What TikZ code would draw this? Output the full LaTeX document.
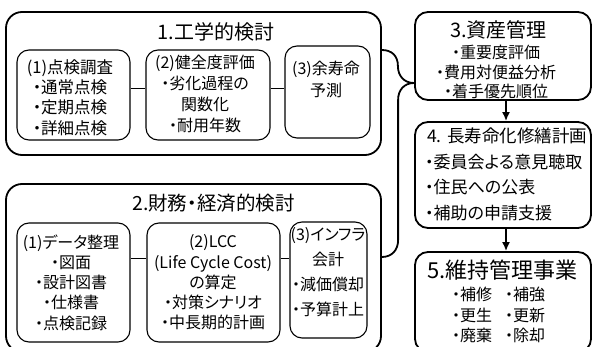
\documentclass[tikz,border=0pt]{standalone}
\usepackage{fontspec}
\setmainfont{Noto Sans CJK JP}[RawFeature=+palt]
\usetikzlibrary{positioning, arrows.meta}

\begin{document}
\begin{tikzpicture}[x=1pt, y=-1pt,
    outerbox/.style={draw, line width=1.8pt, rounded corners=16pt, inner sep=0pt},
    innerbox/.style={draw, line width=1.1pt, rounded corners=12pt, inner sep=0pt},
    sidebox/.style={draw, line width=1.8pt, rounded corners=13pt, inner sep=0pt},
    itemtxt/.style={inner sep=0pt, align=center, font=\fontsize{16}{20.3}\selectfont},
    titletxt/.style={inner sep=0pt, font=\fontsize{20}{24}\selectfont},
    link/.style={line width=0.9pt},
    joint/.style={line width=1.8pt},
    flow/.style={line width=1.8pt, -{Latex[length=9pt,width=8pt]}}]

  \useasboundingbox (0,0) rectangle (593,347);
  \clip (0,0) rectangle (593,347);

  % 1. engineering
  \node[outerbox, minimum width=375pt, minimum height=143pt] (eng) at (193.5,83.5) {};
  \node[titletxt] (engtitle) at (216,32) {1.工学的検討};
  \node[innerbox, minimum width=113pt, minimum height=90pt] (eng1) at (73.5,95) {};
  \node[innerbox, minimum width=124pt, minimum height=90pt] (eng2) at (208,95) {};
  \node[innerbox, minimum width=85pt, minimum height=92pt] (eng3) at (327.5,92) {};
  \node[itemtxt, font=\fontsize{16.5}{20.3}\selectfont] (eng1txt) at (70,97.5) {(1)点検調査\\・通常点検\\・定期点検\\・詳細点検};
  \node[itemtxt, font=\fontsize{16}{21}\selectfont] (eng2txt) at (205,93.5) {(2)健全度評価\\・劣化過程の\\関数化\\・耐用年数};
  \node[itemtxt, font=\fontsize{16}{22}\selectfont] (eng3txt) at (326,79) {(3)余寿命\\予測};
  \draw[link] ([yshift=7pt]eng1.east) -- ([yshift=7pt]eng2.west);
  \draw[link] ([yshift=7pt]eng2.east) -- ([yshift=7pt]eng2.east -| eng3.west);

  % 2. finance
  \node[outerbox, minimum width=375pt, minimum height=168pt] (fin) at (193.5,268) {};
  \node[titletxt, font=\fontsize{19.5}{24}\selectfont] (fintitle) at (213.5,203) {2.財務・経済的検討};
  \node[innerbox, minimum width=113pt, minimum height=119pt] (fin1) at (73.5,282.5) {};
  \node[innerbox, minimum width=133pt, minimum height=119pt] (fin2) at (213.5,282.5) {};
  \node[innerbox, minimum width=77pt, minimum height=116pt] (fin3) at (328.5,280) {};
  \node[itemtxt] (fin1txt) at (71,282.5) {(1)データ整理\\・図面\\・設計図書\\・仕様書\\・点検記録};
  \node[itemtxt] (fin2txt) at (213,282.5) {(2)LCC\\(Life Cycle Cost)\\の算定\\・対策シナリオ\\・中長期的計画};
  \node[itemtxt, font=\fontsize{16}{25}\selectfont] (fin3txt) at (328,272.5) {(3)インフラ\\会計\\・減価償却\\・予算計上};
  \draw[link] ([yshift=24.5pt]fin1.east) -- ([yshift=24.5pt]fin2.west);
  \draw[link] ([yshift=24.5pt]fin2.east) -- ([yshift=24.5pt]fin2.east -| fin3.west);

  % 3. - 5.
  \node[sidebox, minimum width=176pt, minimum height=88pt] (asset) at (503,56) {};
  \node[titletxt] (assettitle) at (498.5,30) {3.資産管理};
  \node[itemtxt, font=\fontsize{16}{19.5}\selectfont] (assettxt) at (496,72) {・重要度評価\\・費用対便益分析\\・着手優先順位};

  \node[sidebox, minimum width=176pt, minimum height=106pt] (plan) at (503,175) {};
  \node[titletxt, font=\fontsize{17.5}{22}\selectfont, anchor=west] (plantitle) at (427,136) {4. 長寿命化修繕計画};
  \node[itemtxt, align=left, anchor=west, font=\fontsize{17}{25.5}\selectfont] (plantxt) at (425,187.5) {・委員会よる意見聴取\\・住民への公表\\・補助の申請支援};

  \node[sidebox, minimum width=176pt, minimum height=100pt] (work) at (503,302) {};
  \node[titletxt, font=\fontsize{22}{26}\selectfont] (worktitle) at (502.5,270) {5.維持管理事業};
  \node[itemtxt, align=left, anchor=west] (workleft) at (452,315) {・補修\\・更生\\・廃棄};
  \node[itemtxt, align=left, anchor=west] (workright) at (505,315) {・補強\\・更新\\・除却};

  \draw[flow] ([xshift=3pt]asset.south) -- ([xshift=3pt]plan.north);
  \draw[flow] ([xshift=3pt]plan.south) -- ([xshift=3pt]work.north);

  % brace joining 1. and 2. into 3.
  \coordinate (meet) at ([yshift=-27pt]asset.west);
  \draw[joint] ([yshift=33.5pt]eng.east) .. controls +(10,0) and +(0,-10) .. ++(16,16)
    .. controls +(0,10) and +(-10,0) .. (meet);
  \draw[joint] (meet) .. controls +(-10,0) and +(0,-10) .. ++(-16,17) -- ++(0,140)
    .. controls +(0,10) and +(10,0) .. ([yshift=11pt]fin.east);
\end{tikzpicture}
\end{document}
